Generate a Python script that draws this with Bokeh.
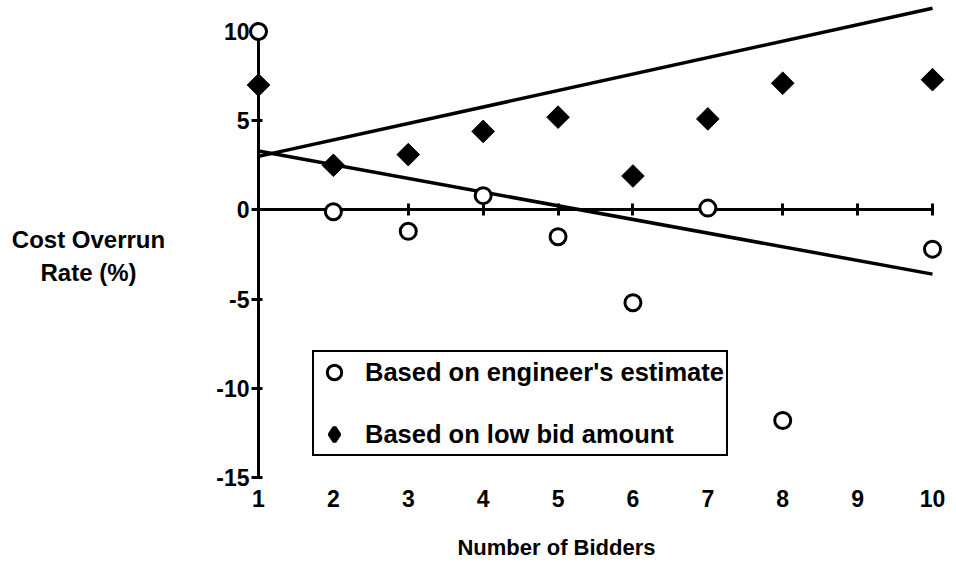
import math
from bokeh.plotting import figure
from bokeh.models import (LinearAxis, FixedTicker, Range1d, Legend, LegendItem,
                          ColumnDataSource, Label)
from bokeh.embed import file_html
from bokeh.resources import INLINE

# ---- data ----
bidders = [1, 2, 3, 4, 5, 6, 7, 8, 10]
engineer_estimate = [10.0, -0.1, -1.2, 0.8, -1.5, -5.2, 0.1, -11.8, -2.2]
low_bid = [7.0, 2.5, 3.1, 4.4, 5.2, 1.9, 5.1, 7.1, 7.3]

trend_x = [1, 10]
trend_upper = [3.0, 11.3]
trend_lower = [3.3, -3.6]

x_ticks = [1, 2, 3, 4, 5, 6, 7, 8, 9, 10]
y_ticks = [-15, -10, -5, 0, 5, 10]
y_tick_labels = ["-15", "-10", "-5", "0", "5", "10"]

series_labels = ["Based on engineer's estimate", "Based on low bid amount"]
x_title = "Number of Bidders"
y_title = "Cost Overrun\nRate (%)"

FONT = "Liberation Sans"
INK = "black"
NAN = float("nan")

# the plotting frame covers the whole canvas; axes sit at fixed data positions
p = figure(width=956, height=562, output_backend="svg", toolbar_location=None,
           x_range=Range1d(-2.445, 10.3205), y_range=Range1d(-19.765, 11.738),
           x_axis_type=None, y_axis_type=None,
           min_border_left=0, min_border_right=0, min_border_top=0,
           min_border_bottom=0)
p.outline_line_color = None
p.background_fill_color = "white"
p.border_fill_color = "white"

# trend lines
p.line(trend_x, trend_upper, line_width=3.5, line_color=INK)
p.line(trend_x, trend_lower, line_width=3.5, line_color=INK)

# markers
src_e = ColumnDataSource(dict(x=bidders, y=engineer_estimate))
src_l = ColumnDataSource(dict(x=bidders, y=low_bid))
r_e = p.scatter("x", "y", source=src_e, marker="circle", size=16, line_width=3,
                line_color=INK, fill_color="white", level="overlay")
r_l = p.scatter("x", "y", source=src_l, marker="square", angle=math.pi / 4, size=16,
                line_width=1, line_color=INK, fill_color=INK, level="overlay")

# key symbols for the legend (not plotted: NaN position)
k_e = p.scatter([NAN], [NAN], marker="circle", line_width=3, line_color=INK,
                fill_color="white")
k_l = p.scatter([NAN], [NAN], marker="diamond", line_width=4, line_color=INK,
                fill_color=INK)

# x axis drawn along y = 0 (line + ticks only)
x_zero = LinearAxis(fixed_location=0, ticker=FixedTicker(ticks=x_ticks), bounds=(1, 10),
                    major_label_overrides={t: "" for t in x_ticks})
x_zero.axis_line_width = 3
x_zero.axis_line_color = INK
x_zero.major_tick_in = 6
x_zero.major_tick_out = 6
x_zero.major_tick_line_width = 3
x_zero.major_tick_line_color = INK
x_zero.minor_tick_line_color = None
p.add_layout(x_zero, "below")

# x tick labels under the bottom end of the y axis
x_lab = LinearAxis(fixed_location=y_ticks[0], ticker=FixedTicker(ticks=x_ticks))
x_lab.axis_line_color = None
x_lab.major_tick_in = 0
x_lab.major_tick_out = 0
x_lab.minor_tick_line_color = None
x_lab.major_label_standoff = 13
x_lab.major_label_text_font = FONT
x_lab.major_label_text_font_size = "23px"
x_lab.major_label_text_font_style = "bold"
x_lab.major_label_text_color = INK
p.add_layout(x_lab, "below")

# y axis at x = 1
y_ax = LinearAxis(fixed_location=1, ticker=FixedTicker(ticks=y_ticks), bounds=(-15, 10),
                  major_label_overrides=dict(zip(y_ticks, y_tick_labels)))
y_ax.axis_line_width = 3
y_ax.axis_line_color = INK
y_ax.major_tick_in = 4
y_ax.major_tick_out = 7
y_ax.major_tick_line_width = 3
y_ax.major_tick_line_color = INK
y_ax.minor_tick_line_color = None
y_ax.major_label_standoff = 2
y_ax.major_label_text_font = FONT
y_ax.major_label_text_font_size = "23px"
y_ax.major_label_text_font_style = "bold"
y_ax.major_label_text_color = INK
p.add_layout(y_ax, "left")

# axis titles
p.add_layout(Label(x=-1.27, y=-2.58, text=y_title, text_align="center",
                   text_baseline="middle", text_font=FONT, text_font_size="24px",
                   text_font_style="bold", text_color=INK))
p.add_layout(Label(x=4.979, y=-18.95, text=x_title, text_align="center",
                   text_baseline="middle", text_font=FONT, text_font_size="22px",
                   text_font_style="bold", text_color=INK))

legend = Legend(items=[LegendItem(label=series_labels[0], renderers=[k_e]),
                       LegendItem(label=series_labels[1], renderers=[k_l])],
                location=(312, 106), orientation="vertical", margin=0,
                border_line_color=INK, border_line_width=2, border_line_alpha=1,
                padding=2, spacing=26, glyph_width=36, glyph_height=36,
                label_standoff=13, label_text_font=FONT, label_text_font_size="25.5px",
                label_text_font_style="bold", label_text_color=INK,
                background_fill_color="white", background_fill_alpha=1)
p.add_layout(legend, "center")

open("out.html", "w").write(file_html(p, INLINE))
